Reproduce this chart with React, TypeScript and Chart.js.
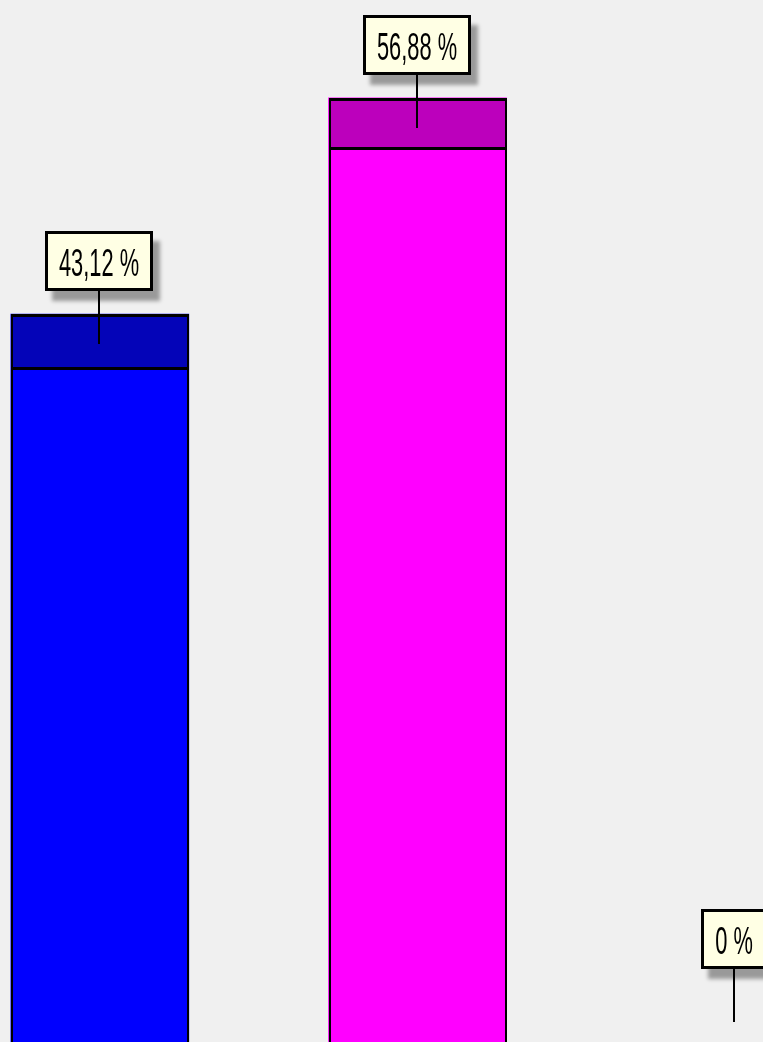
import { useEffect, useRef } from 'react';
import { Chart, registerables } from 'chart.js';

Chart.register(...registerables);

const CATEGORIES = ['1', '2', '3'];
const VALUES = [43.12, 56.88, 0];
const BAR_COLORS = ['#0000ff', '#ff00ff', '#00ffff'];
const CAP_COLORS = ['#0404b8', '#bc00bc', '#00b8b8'];
const Y_MIN = -3.18;
const Y_MAX = 63.1;

const VIEW_W = 763;
const VIEW_H = 1042;
const CANVAS_LEFT = -59;
const CANVAS_W = 953;
const TEXT_SX = 0.56;

const fmt = (v: number) => String(v).replace('.', ',') + ' %';

const capsAndLabels = {
  id: 'capsAndLabels',
  afterDatasetsDraw(chart: any) {
    const ctx = chart.ctx;
    const meta = chart.getDatasetMeta(0);
    const bottom = chart.height;
    meta.data.forEach((el: any, i: number) => {
      if (!(VALUES[i] > 0)) return;
      const { x, y, width } = el.getProps(['x', 'y', 'width'], true);
      const left = Math.round(x - width / 2);
      const right = Math.round(x + width / 2);
      const top = Math.round(y);
      const depth = Math.round(47 + top * 0.019);
      ctx.save();
      ctx.fillStyle = CAP_COLORS[i];
      ctx.fillRect(left + 2, top + 3, right - left - 4, depth - 3);
      ctx.fillStyle = '#000';
      // outline
      ctx.fillRect(left, top, right - left, 3);
      ctx.fillRect(left, top, 2, bottom - top);
      ctx.fillRect(right - 2, top, 2, bottom - top);
      // cap edge
      ctx.fillRect(left, top + depth, right - left, 3);
      ctx.restore();
    });
  },
  afterDraw(chart: any) {
    const ctx = chart.ctx;
    const meta = chart.getDatasetMeta(0);
    meta.data.forEach((el: any, i: number) => {
      const { x, y } = el.getProps(['x', 'y'], true);
      const text = fmt(VALUES[i]);
      const top = Math.round(y);
      const cx = Math.round(x) - 1;
      ctx.save();
      ctx.font = '39px "Liberation Sans", Arial, sans-serif';
      const tw = ctx.measureText(text).width * TEXT_SX;
      const bw = Math.round(tw + 28);
      const bh = 60;
      const bx = Math.round(cx - bw / 2);
      const by = top - 83;
      // box with shadow
      ctx.save();
      ctx.shadowColor = 'rgba(0,0,0,0.36)';
      ctx.shadowBlur = 4;
      ctx.shadowOffsetX = 7;
      ctx.shadowOffsetY = 10;
      ctx.fillStyle = '#000';
      ctx.fillRect(bx, by, bw, bh);
      ctx.restore();
      ctx.fillStyle = '#ffffe4';
      ctx.fillRect(bx + 3, by + 3, bw - 6, bh - 6);
      // leader line
      ctx.fillStyle = '#000';
      ctx.fillRect(cx - 1, by + bh, 2, top + 30 - (by + bh));
      // text
      ctx.translate(cx, by + 45);
      ctx.scale(TEXT_SX, 1);
      ctx.textAlign = 'center';
      ctx.textBaseline = 'alphabetic';
      ctx.fillStyle = '#000';
      ctx.fillText(text, 0, 0);
      ctx.restore();
    });
  },
};

export default function App() {
  const ref = useRef<HTMLCanvasElement | null>(null);

  useEffect(() => {
    if (!ref.current) return;
    const chart = new Chart(ref.current, {
      type: 'bar',
      data: {
        labels: CATEGORIES,
        datasets: [
          {
            data: VALUES,
            backgroundColor: VALUES.map((v, i) => (v > 0 ? BAR_COLORS[i] : 'rgba(0,0,0,0)')),
            borderWidth: 0,
            base: -10,
            barThickness: 178,
          } as any,
        ],
      },
      options: {
        animation: false,
        responsive: false,
        devicePixelRatio: 1,
        layout: { padding: 0 },
        plugins: { legend: { display: false }, tooltip: { enabled: false } },
        scales: {
          x: { display: false },
          y: { display: false, min: Y_MIN, max: Y_MAX },
        },
      },
      plugins: [capsAndLabels],
    });
    return () => chart.destroy();
  }, []);

  return (
    <div
      style={{
        position: 'fixed',
        left: 0,
        top: 0,
        width: VIEW_W,
        height: VIEW_H,
        overflow: 'hidden',
        background: '#f0f0f0',
      }}
    >
      <canvas
        ref={ref}
        width={CANVAS_W}
        height={VIEW_H}
        style={{ position: 'absolute', left: CANVAS_LEFT, top: 0 }}
      />
    </div>
  );
}
